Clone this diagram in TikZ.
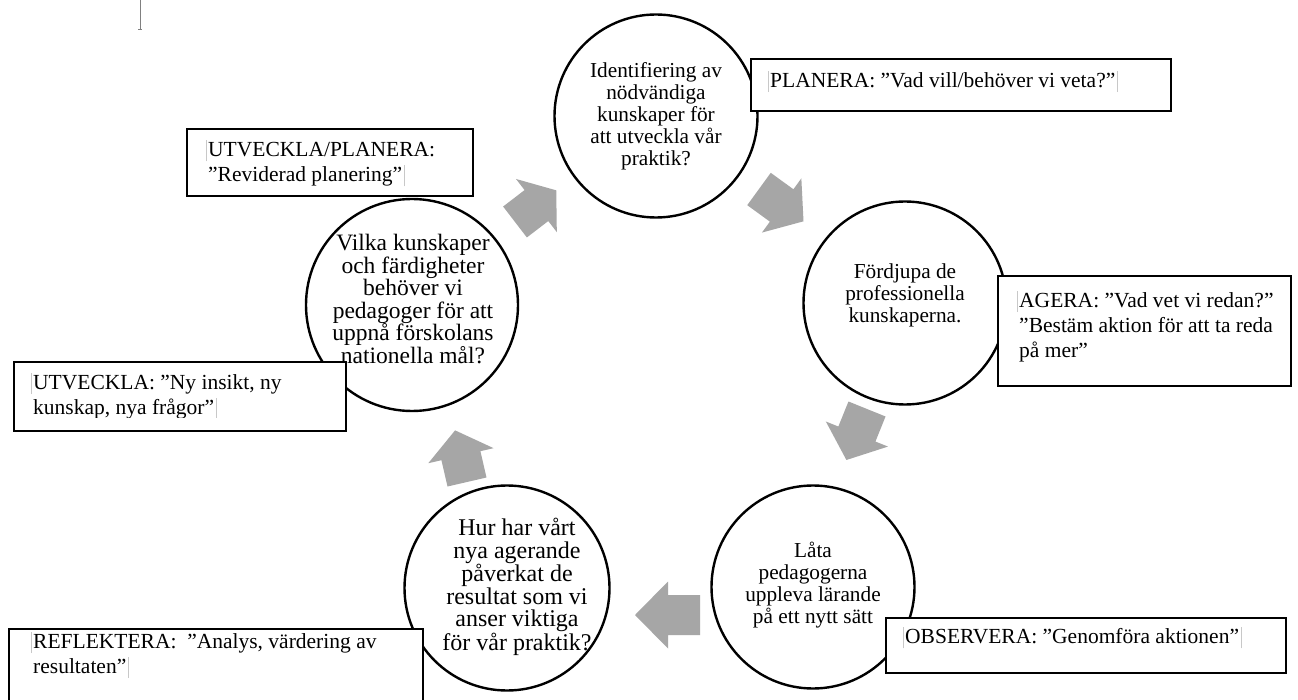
\documentclass[tikz,border=0pt]{standalone}
\usepackage{fontspec}
\setmainfont{Liberation Serif}
\definecolor{arrowgray}{HTML}{A6A6A6}
\definecolor{markgray}{HTML}{C8C8C8}
\newcommand\mkL{\smash{\llap{\textcolor{markgray}{\rule[-5pt]{0.8pt}{21pt}}\hspace{1.5pt}}}}
\newcommand\mkR{\smash{\rlap{\hspace{1.5pt}\textcolor{markgray}{\rule[-5pt]{0.8pt}{21pt}}}}}
\newcommand\barrow[8]{%
  \fill[arrowgray, shift={(#2,#3)}, rotate=#4]
    (0,-#6/2) -- (#5,-#6/2) -- (#5,-#8/2) -- (#5+#7,0) -- (#5,#8/2) -- (#5,#6/2) -- (0,#6/2) -- cycle
    coordinate (#1) at (0,0);}
\begin{document}
\begin{tikzpicture}[x=1pt,y=-1pt,
  circ/.style={circle, draw=black, line width=2.4pt, fill=white, inner sep=0pt, minimum size=#1},
  circ/.default=203pt,
  ctext/.style={align=center, inner sep=0pt, font=\fontsize{21.3}{22}\selectfont},
  ctextL/.style={align=center, inner sep=0pt, font=\fontsize{#1}{22.5}\selectfont},
  tbox/.style={draw=black, line width=2pt, fill=white, anchor=north west, inner sep=0pt},
  btext/.style={align=left, inner sep=0pt, anchor=north west, font=\fontsize{21.5}{25}\selectfont}]
\useasboundingbox (0,0) rectangle (1298,700);
\fill[white] (0,0) rectangle (1298,700);
% margin mark
\coordinate (m1) at (140,0);
\coordinate (m2) at (140,30);
\draw[black!50, line width=1pt] (m1) -- (m2);
\draw[black!50, line width=1pt] ([xshift=-2pt]m2) -- ([xshift=2pt]m2);
% circles
\node[circ] (c1) at (656,116) {};
\node[circ] (c2) at (905,303) {};
\node[circ] (c3) at (813,587) {};
\node[circ=205pt] (c4) at (507,588) {};
\node[circ=212pt] (c5) at (412,305) {};
\node[ctext] (t1) at (656,116) {Identifiering av\\nödvändiga\\kunskaper för\\att utveckla vår\\praktik?};
\node[ctext] (t2) at (905,295) {Fördjupa de\\professionella\\kunskaperna.};
\node[ctext] (t3) at (813,585) {Låta\\pedagogerna\\uppleva lärande\\på ett nytt sätt};
\node[ctextL=24] (t4) at (517,587) {Hur har vårt\\nya agerande\\påverkat de\\resultat som vi\\anser viktiga\\för vår praktik?};
\node[ctextL=23.5] (t5) at (413,299) {Vilka kunskaper\\och färdigheter\\behöver vi\\pedagoger för att\\uppnå förskolans\\nationella mål?};
% arrows
\barrow{a1}{515}{222}{37.5}{27}{39}{25}{67}
\barrow{a2}{759}{189}{-36}{28}{40}{27}{67}
\barrow{a3}{867}{409}{-112}{27}{40}{28}{67}
\barrow{a4}{700}{615}{180}{32}{40}{33}{67}
\barrow{a5}{467}{482}{103}{27}{40}{26}{67}
% boxes
\node[tbox, minimum width=420pt, minimum height=52pt] (b1) at (750,58) {};
\node[btext] (bt1) at (770,72) {\mkL PLANERA: ”Vad vill/behöver vi veta?”\mkR};
\node[tbox, minimum width=286pt, minimum height=67pt] (b2) at (186,128) {};
\node[btext] (bt2) at (208,142) {\mkL UTVECKLA/PLANERA:\\”Reviderad planering”\mkR};
\node[tbox, minimum width=293pt, minimum height=110pt] (b3) at (997,275) {};
\node[btext] (bt3) at (1019,292) {\mkL AGERA: ”Vad vet vi redan?”\\”Bestäm aktion för att ta reda\\på mer”};
\node[tbox, minimum width=332pt, minimum height=69pt] (b4) at (13,361) {};
\begin{scope}
\clip (13,361) rectangle (345,417);
\node[btext] (bt4) at (33,374) {\mkL UTVECKLA: ”Ny insikt, ny\\kunskap, nya frågor”\mkR};
\end{scope}
\node[tbox, minimum width=414pt, minimum height=80pt] (b5) at (8,628) {};
\node[btext] (bt5) at (33,633) {\mkL REFLEKTERA:\ \ ”Analys, värdering av\\resultaten”\mkR};
\node[tbox, minimum width=400pt, minimum height=55pt] (b6) at (885,617) {};
\node[btext] (bt6) at (905,628) {\mkL OBSERVERA: ”Genomföra aktionen”\mkR};
\end{tikzpicture}
\end{document}
